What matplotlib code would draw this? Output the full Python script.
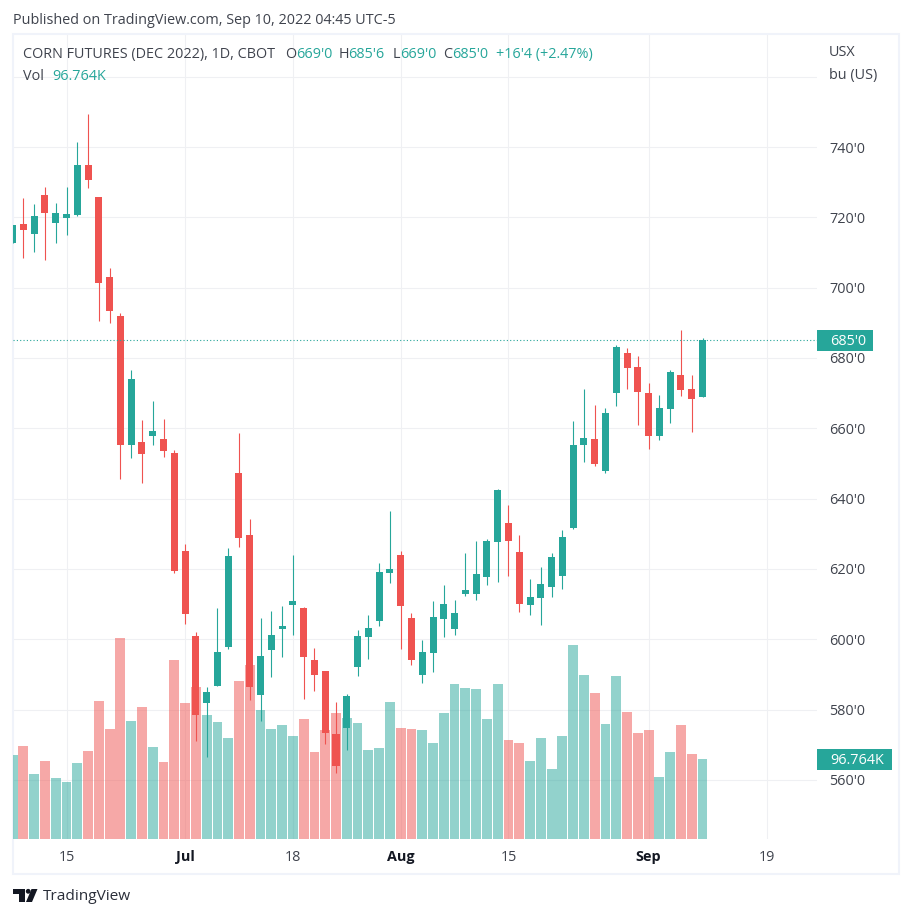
#!/usr/local/bin/python3
import matplotlib
matplotlib.use('Agg')
import matplotlib.pyplot as plt
from matplotlib.patches import Rectangle, Polygon, Circle

W, H = 912, 918
UP = '#26a69a'
DOWN = '#ef5350'
TEXT = '#3f434d'
FONT_SIZE = 10.4

opens = [712.75, 718.1, 715.3, 726.35, 718.4, 719.8, 720.7, 734.9, 725.8, 703.0,
         691.9, 655.3, 656.1, 657.8, 657.0, 653.0, 625.1, 600.9, 581.9, 586.7,
         597.8, 647.3, 629.7, 584.2, 597.0, 603.0, 609.8, 608.9, 594.1, 591.0,
         573.1, 574.8, 592.1, 600.7, 605.2, 618.9, 624.0, 606.1, 589.9, 596.1,
         605.8, 603.0, 612.9, 612.9, 617.7, 627.7, 633.1, 624.8, 609.8, 611.7,
         614.9, 618.0, 631.7, 655.3, 657.0, 647.9, 670.0, 681.4, 677.4, 670.0,
         657.8, 665.5, 675.2, 671.2, 669.0]
highs = [717.75, 725.5, 723.8, 728.6, 724.1, 728.6, 741.4, 749.4, 725.8, 705.6,
         692.8, 676.6, 662.4, 667.8, 662.7, 653.8, 627.1, 602.1, 586.4, 608.9,
         626.0, 658.7, 634.2, 606.1, 608.1, 609.5, 624.0, 609.2, 597.5, 591.0,
         582.2, 584.5, 602.6, 606.9, 621.7, 636.5, 625.1, 607.5, 599.8, 610.9,
         615.4, 611.2, 624.5, 628.0, 628.5, 642.7, 638.2, 629.7, 617.2, 620.6,
         624.5, 631.1, 662.1, 671.2, 666.6, 665.8, 683.7, 682.8, 680.6, 672.9,
         669.5, 676.6, 688.0, 675.2, 685.75]
lows = [712.75, 708.4, 710.1, 707.9, 712.7, 715.0, 720.4, 728.3, 690.5, 690.0,
        645.6, 651.6, 644.5, 655.3, 651.8, 618.9, 604.4, 571.1, 566.5, 586.7,
        597.2, 626.3, 582.7, 576.8, 589.3, 595.0, 601.2, 583.0, 585.3, 570.2,
        562.0, 568.5, 589.6, 594.4, 603.8, 616.0, 597.2, 592.7, 587.6, 590.7,
        600.7, 601.2, 612.3, 611.2, 615.4, 616.3, 618.0, 607.8, 606.9, 604.1,
        612.0, 614.3, 631.4, 650.4, 649.3, 647.3, 666.3, 671.2, 660.9, 654.1,
        656.7, 661.5, 669.2, 659.0, 669.0]
closes = [717.75, 716.4, 720.4, 721.2, 721.2, 720.95, 734.9, 730.6, 701.3, 693.4,
          655.3, 674.0, 652.7, 659.2, 653.6, 619.4, 607.2, 578.5, 585.0, 596.4,
          623.7, 628.8, 586.4, 595.3, 601.2, 603.8, 610.9, 595.0, 589.9, 573.4,
          564.0, 583.9, 600.9, 603.2, 619.1, 620.0, 609.5, 594.1, 596.4, 606.3,
          610.0, 607.5, 614.0, 618.6, 628.0, 642.5, 628.0, 610.0, 612.0, 615.7,
          623.4, 629.1, 655.3, 657.2, 649.9, 664.4, 683.1, 677.2, 670.3, 657.8,
          665.8, 676.0, 670.9, 668.3, 685.0]
volumes = [102.1, 113.1, 79.0, 94.8, 74.2, 69.3, 92.4, 107.0, 167.8, 133.7,
           244.3, 143.4, 160.5, 111.8, 93.6, 217.6, 165.3, 184.8, 150.7, 142.2,
           122.8, 192.1, 211.5, 156.8, 133.7, 138.6, 125.2, 145.9, 105.8, 132.5,
           153.2, 147.1, 141.0, 108.2, 110.6, 166.5, 134.9, 133.7, 132.5, 116.7,
           153.2, 188.4, 183.6, 182.3, 145.9, 188.4, 120.3, 116.7, 94.8, 122.8,
           85.1, 125.2, 235.8, 199.4, 177.5, 139.8, 198.1, 154.4, 128.9, 132.5,
           75.4, 105.8, 138.6, 103.3, 96.764]

date_ticks = [5, 16, 26, 36, 46, 59, 70]
date_labels = ['15', 'Jul', '18', 'Aug', '15', 'Sep', '19']
bold_labels = ['Jul', 'Aug', 'Sep']
price_ticks = [560, 580, 600, 620, 640, 660, 680, 700, 720, 740, 760]
price_labels = ["560'0", "580'0", "600'0", "620'0", "640'0", "660'0", "680'0",
                "700'0", "720'0", "740'0", ""]
last_price = 685.0

plt.rcParams['font.family'] = ['Open Sans', 'DejaVu Sans']


def px(x, y):
    return x / W, 1 - y / H


def label(x, y, s, color=TEXT, size=FONT_SIZE, **kw):
    fig.text(x / W, 1 - (y + 1) / H, s, color=color, fontsize=size, va='center', **kw)


fig = plt.figure(figsize=(W / 100, H / 100), dpi=100)
pos = [13.5 / W, 1 - 839 / H, (817 - 13.5) / W, (839 - 34.5) / H]

# three layers so the grid stays under the volume and the candles over it
ax_grid = fig.add_axes(pos, zorder=0)
ax_vol = fig.add_axes(pos, zorder=1)
ax = fig.add_axes(pos, zorder=2)
xlim = (0.083, 74.62)
ylim = (543.2, 772.0)
for a in (ax_grid, ax_vol, ax):
    a.set_xlim(xlim)
ax_grid.set_ylim(ylim)
ax.set_ylim(ylim)
ax_vol.set_ylim(0, 978)
ax_vol.axis('off')
ax.axis('off')

for spine in ax_grid.spines.values():
    spine.set_visible(False)
ax_grid.grid(True, color='#eff0f3', linewidth=0.8)
ax_grid.set_axisbelow(True)
ax_grid.yaxis.tick_right()
ax_grid.set_yticks(price_ticks)
ax_grid.set_yticklabels(price_labels)
ax_grid.set_xticks(date_ticks)
ax_grid.set_xticklabels(date_labels)
ax_grid.tick_params(axis='y', length=0, pad=9.0, labelsize=FONT_SIZE, labelcolor=TEXT)
ax_grid.tick_params(axis='x', length=0, pad=8.0, labelsize=FONT_SIZE, labelcolor=TEXT)
for t in ax_grid.get_xticklabels():
    if t.get_text() in bold_labels:
        t.set_fontweight('bold')
        t.set_color('#131722')

idx = list(range(len(closes)))
colors = [UP if c >= o else DOWN for o, c in zip(opens, closes)]
ax_vol.bar(idx, volumes, width=0.91, color=colors, alpha=0.5, linewidth=0)
ax.vlines(idx, lows, highs, colors=colors, linewidth=0.8)
ax.bar(idx, [abs(c - o) for o, c in zip(opens, closes)],
       bottom=[min(o, c) for o, c in zip(opens, closes)],
       width=0.65, color=colors, linewidth=0)
ax.axhline(last_price, color=UP, linewidth=0.8, linestyle=(0, (1, 2)), zorder=5)

# panel border
fig.add_artist(Rectangle(px(13, 873.7), 886 / W, 839.5 / H, fill=False,
                         edgecolor='#f0f3fa', linewidth=1.5,
                         transform=fig.transFigure))

# value tags on the price scale
fig.add_artist(Rectangle(px(817, 351), 56 / W, 21 / H, facecolor=UP, linewidth=0,
                         transform=fig.transFigure, zorder=4))
label(830, 340.5, "685'0", color='white', zorder=5)
fig.add_artist(Rectangle(px(817, 770), 75 / W, 21 / H, facecolor=UP, linewidth=0,
                         transform=fig.transFigure, zorder=4))
label(830, 759.5, '96.764K', color='white', zorder=5)

# header text
label(13, 19, 'Published on TradingView.com, Sep 10, 2022 04:45 UTC-5')
label(23, 53.5, 'CORN FUTURES (DEC 2022), 1D, CBOT')
for x, s, c in [(285, 'O', TEXT), (296, "669'0", UP), (338.5, 'H', TEXT), (348, "685'6", UP),
                (392.5, 'L', TEXT), (400, "669'0", UP), (443, 'C', TEXT), (452, "685'0", UP),
                (496, "+16'4 (+2.47%)", UP)]:
    label(x, 53.5, s, color=c)
label(23, 75, 'Vol')
label(52, 75, '96.764K', color=UP)
label(829, 51, 'USX')
label(829, 74, 'bu (US)')

# footer logo and name
logo = '#131722'
fig.add_artist(Polygon([px(13, 889), px(25, 889), px(25, 902), px(19, 902), px(19, 894), px(13, 894)],
                       closed=True, facecolor=logo, linewidth=0, transform=fig.transFigure))
fig.add_artist(Polygon([px(31.5, 889), px(37.5, 889), px(32, 902), px(26, 902)],
                       closed=True, facecolor=logo, linewidth=0, transform=fig.transFigure))
fig.add_artist(Circle(px(28.2, 891.3), 2.4 / W, facecolor=logo, linewidth=0,
                      transform=fig.transFigure))
label(43, 896, 'TradingView', color='#2a2e39', size=11.1)

plt.savefig('out.png', dpi=100)
plt.close()
